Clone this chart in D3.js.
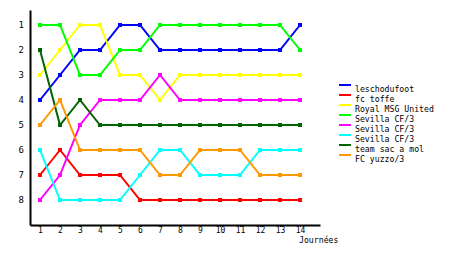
<!DOCTYPE html>
<html>
<head>
<meta charset="utf-8">
<script src="https://cdn.jsdelivr.net/npm/d3@7"></script>
<style>
  body { margin: 0; background: #fff; }
  svg text { font-family: "DejaVu Sans Mono", monospace; fill: #000; }
</style>
</head>
<body>
<svg width="460" height="255"></svg>
<script>
// journées (x) and rank per team (y, 1 = top)
var journees = [1, 2, 3, 4, 5, 6, 7, 8, 9, 10, 11, 12, 13, 14];
var teams = ["leschodufoot", "fc toffe", "Royal MSG United", "Sevilla CF/3", "Sevilla CF/3", "Sevilla CF/3", "team sac a mol", "FC yuzzo/3"];
var colors = ["#0000ff", "#ff0000", "#ffff00", "#00ff00", "#ff00ff", "#00ffff", "#006400", "#ff9900"];

var leschodufoot = [4, 3, 2, 2, 1, 1, 2, 2, 2, 2, 2, 2, 2, 1];
var fcToffe      = [7, 6, 7, 7, 7, 8, 8, 8, 8, 8, 8, 8, 8, 8];
var royalMsg     = [3, 2, 1, 1, 3, 3, 4, 3, 3, 3, 3, 3, 3, 3];
var sevillaA     = [1, 1, 3, 3, 2, 2, 1, 1, 1, 1, 1, 1, 1, 2];
var sevillaB     = [8, 7, 5, 4, 4, 4, 3, 4, 4, 4, 4, 4, 4, 4];
var sevillaC     = [6, 8, 8, 8, 8, 7, 6, 6, 7, 7, 7, 6, 6, 6];
var teamSac      = [2, 5, 4, 5, 5, 5, 5, 5, 5, 5, 5, 5, 5, 5];
var fcYuzzo      = [5, 4, 6, 6, 6, 6, 7, 7, 6, 6, 6, 7, 7, 7];

var series = [leschodufoot, fcToffe, royalMsg, sevillaA, sevillaB, sevillaC, teamSac, fcYuzzo];
var rankTicks = [1, 2, 3, 4, 5, 6, 7, 8];

var svg = d3.select("svg");

var x = d3.scaleLinear().domain([0.5, 15]).range([30, 320]);
var y = d3.scaleLinear().domain([0.4, 9]).range([10, 225]);

// axes
var yAxis = svg.append("g")
    .attr("transform", "translate(30,0)")
    .call(d3.axisLeft(y).tickValues(rankTicks).tickSize(0).tickSizeOuter(0).tickPadding(6));
yAxis.select(".domain").attr("stroke", "#000").attr("stroke-width", 2);
yAxis.selectAll("text").attr("font-size", 9);

var xAxis = svg.append("g")
    .attr("transform", "translate(0,225)")
    .call(d3.axisBottom(x).tickValues(journees).tickSize(2).tickSizeOuter(0).tickPadding(0));
xAxis.select(".domain").attr("stroke", "#000").attr("stroke-width", 2);
xAxis.selectAll("text").attr("font-size", 8);

svg.append("text")
    .attr("x", 299)
    .attr("y", 243)
    .attr("font-size", 8.2)
    .text("Journées");

// lines
var line = d3.line()
    .x(function(d, i) { return x(journees[i]); })
    .y(function(d) { return y(d); });

var g = svg.selectAll(".team")
    .data(series)
    .enter().append("g")
      .attr("class", "team");

g.append("path")
    .attr("d", line)
    .attr("fill", "none")
    .attr("stroke", function(d, i) { return colors[i]; })
    .attr("stroke-width", 2);

g.each(function(d, i) {
  d3.select(this).selectAll("rect")
    .data(d)
    .enter().append("rect")
      .attr("x", function(v, j) { return x(journees[j]) - 2; })
      .attr("y", function(v) { return y(v) - 2; })
      .attr("width", 4)
      .attr("height", 4)
      .attr("fill", colors[i]);
});

// legend
var legend = svg.selectAll(".legend")
    .data(teams)
    .enter().append("g")
      .attr("class", "legend")
      .attr("transform", function(d, i) { return "translate(339," + (85 + i * 10) + ")"; });

legend.append("line")
    .attr("x1", 0).attr("x2", 12)
    .attr("y1", 0).attr("y2", 0)
    .attr("stroke", function(d, i) { return colors[i]; })
    .attr("stroke-width", 2);

legend.append("text")
    .attr("x", 16)
    .attr("y", 7)
    .attr("font-size", 8.2)
    .text(function(d) { return d; });
</script>
</body>
</html>
